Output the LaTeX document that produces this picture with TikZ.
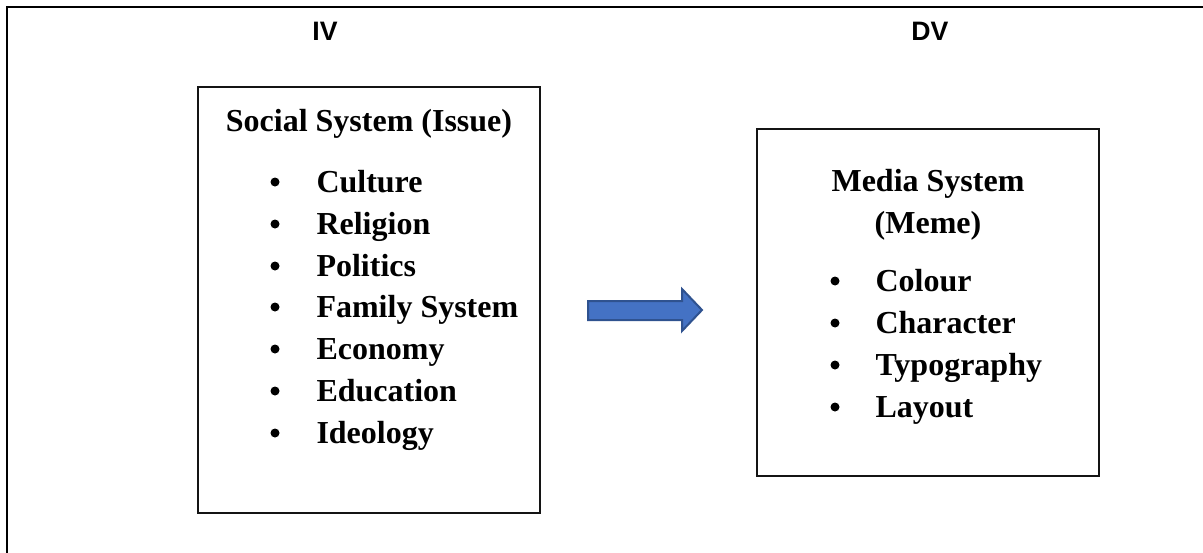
\documentclass[tikz,border=0pt]{standalone}
\usepackage{fontspec}
\setmainfont{Liberation Serif}
\newfontfamily\varfont{Liberation Sans}

\tikzset{every picture/.style={line width=0.75pt}}
\tikzset{
  itemtext/.style={anchor=base west,inner sep=0pt,font=\fontsize{24}{28}\selectfont\bfseries},
  headtext/.style={anchor=base,inner sep=0pt,font=\fontsize{24}{28}\selectfont\bfseries},
  vartext/.style={anchor=base,inner sep=0pt,font=\varfont\fontsize{20}{24}\selectfont\bfseries},
  bulletdot/.style={fill=black,draw=none},
  framebox/.style={draw={rgb, 255:red, 20; green, 20; blue, 20},line width=1.5pt}
}

\begin{document}
\begin{tikzpicture}[x=0.75pt,y=0.75pt,yscale=-1,xscale=1]
\useasboundingbox (0,0) rectangle (1203,553);

%Shape: Outer frame (top and left)
\draw [line width=2.2pt] (7,553) -- (7,7) -- (1203,7) ;

%Shape: Rectangle [social]
\draw [framebox] (198,87) rectangle (540,513) ;
%Shape: Rectangle [media]
\draw [framebox] (757,129) rectangle (1099,476) ;

%Shape: Right Arrow
\draw [draw={rgb, 255:red, 47; green, 82; blue, 143 },fill={rgb, 255:red, 68; green, 114; blue, 196 },line width=1.5pt] (588,301) -- (682,301) -- (682,289) -- (702,310) -- (682,331) -- (682,320) -- (588,320) -- cycle ;

% Text Node
\node [vartext] (iv) at (325,40) {IV};
% Text Node
\node [vartext] (dv) at (930,40) {DV};

% Text Node
\node [headtext] (social) at (369,131) {Social System (Issue)};
\fill [bulletdot] (275,182) circle (4.5) ;
\node [itemtext] (culture) at (316,192) {Culture};
\fill [bulletdot] (275,224) circle (4.5) ;
\node [itemtext] (religion) at (316,234) {Religion};
\fill [bulletdot] (275,266) circle (4.5) ;
\node [itemtext] (politics) at (316,276) {Politics};
\fill [bulletdot] (275,307) circle (4.5) ;
\node [itemtext] (family) at (316,317) {Family System};
\fill [bulletdot] (275,349) circle (4.5) ;
\node [itemtext] (economy) at (316,359) {Economy};
\fill [bulletdot] (275,391) circle (4.5) ;
\node [itemtext] (education) at (316,401) {Education};
\fill [bulletdot] (275,433) circle (4.5) ;
\node [itemtext] (ideology) at (316,443) {Ideology};

% Text Node
\node [headtext] (media) at (928,191) {Media System};
\node [headtext] (meme) at (928,233) {(Meme)};
\fill [bulletdot] (835,281) circle (4.5) ;
\node [itemtext] (colour) at (875,291) {Colour};
\fill [bulletdot] (835,323) circle (4.5) ;
\node [itemtext] (character) at (875,333) {Character};
\fill [bulletdot] (835,365) circle (4.5) ;
\node [itemtext] (typography) at (875,375) {Typography};
\fill [bulletdot] (835,407) circle (4.5) ;
\node [itemtext] (layout) at (875,417) {Layout};

\end{tikzpicture}
\end{document}
